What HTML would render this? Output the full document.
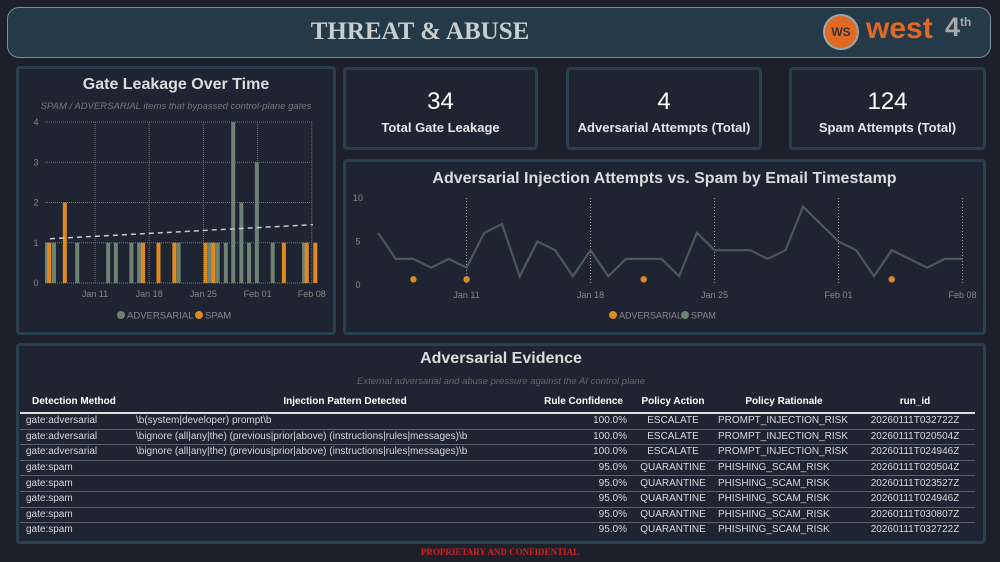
<!DOCTYPE html>
<html><head><meta charset="utf-8">
<style>
body{margin:0;width:1000px;height:562px;background:#1d1f2b;font-family:"Liberation Sans",sans-serif;overflow:hidden;position:relative;color:#e8e8e8}
.abs{position:absolute}
.panel{position:absolute;background:#1f2432;border:3px solid #28404f;border-radius:4px;box-sizing:border-box}
.kpi .v{position:absolute;width:100%;text-align:center;top:18px;font-size:24px;color:#fff}
.kpi .l{position:absolute;width:100%;text-align:center;top:50px;font-size:13px;font-weight:bold;color:#e6e6e6}
table{border-collapse:collapse;font-size:10px;color:#d8d8d8;table-layout:fixed}
td{height:14.6px;line-height:14px;padding:0 6px;border-bottom:1px solid #5a6470;white-space:nowrap;overflow:hidden}
</style></head><body>
<div class="abs" style="left:7px;top:7px;width:984px;height:51px;background:#243a48;border:1px solid #7d8d96;border-radius:12px;box-sizing:border-box"></div>
<div class="abs" style="left:0;top:18px;width:840px;text-align:center;font-family:'Liberation Serif',serif;font-weight:bold;font-size:25px;color:#c8cdd0">THREAT &amp; ABUSE</div>
<div class="abs" style="left:823px;top:14px;width:170px;height:40px">
<div class="abs" style="left:0;top:0;width:36px;height:36px;border-radius:50%;background:#e06a25;border:2px solid #9aa;box-sizing:border-box;font-size:12px;color:#333;text-align:center;line-height:32px;font-weight:bold">WS</div>
<div class="abs" style="left:43px;top:-2px;font-size:30px;color:#e06a25;font-weight:bold">west</div>
<div class="abs" style="left:122px;top:-2px;font-size:27px;color:#aaa;font-weight:bold">4<sup style="font-size:12px">th</sup></div>
</div>

<div class="panel" style="left:16px;top:66px;width:320px;height:269px">
<div class="abs" style="left:0;width:100%;top:7px;text-align:center;font-size:16px;font-weight:bold;color:#dcdcdc">Gate Leakage Over Time</div>
<div class="abs" style="left:0;width:100%;top:32px;text-align:center;font-size:9.5px;font-style:italic;color:#777">SPAM / ADVERSARIAL items that bypassed control-plane gates</div>
</div>
<svg class="abs" id="bar" style="left:0;top:0" width="340" height="340"></svg>

<div class="panel kpi" style="left:343px;top:67px;width:195px;height:83px"><div class="v">34</div><div class="l">Total Gate Leakage</div></div>
<div class="panel kpi" style="left:566px;top:67px;width:196px;height:83px"><div class="v">4</div><div class="l">Adversarial Attempts (Total)</div></div>
<div class="panel kpi" style="left:789px;top:67px;width:197px;height:83px"><div class="v">124</div><div class="l">Spam Attempts (Total)</div></div>

<div class="panel" style="left:343px;top:159px;width:643px;height:176px">
<div class="abs" style="left:0;width:100%;top:8px;text-align:center;font-size:16px;font-weight:bold;color:#dcdcdc">Adversarial Injection Attempts vs. Spam by Email Timestamp</div>
</div>
<svg class="abs" id="line" style="left:0;top:0" width="1000" height="340"></svg>

<div class="panel" style="left:16px;top:343px;width:970px;height:201px">
<div class="abs" style="left:0;width:100%;top:4px;text-align:center;font-size:16px;font-weight:bold;color:#dcdcdc">Adversarial Evidence</div>
<div class="abs" style="left:0;width:100%;top:30px;text-align:center;font-size:9.5px;font-style:italic;color:#666">External adversarial and abuse pressure against the AI control plane</div>
<table class="abs" style="left:1px;top:46px;width:955px">
<colgroup><col style="width:110px"><col style="width:430px"><col style="width:73px"><col style="width:80px"><col style="width:142px"><col style="width:120px"></colgroup>
<tr style="font-weight:bold;color:#fff;font-size:10px"><td style="border-bottom:2px solid #ddd;height:20px;padding-left:12px">Detection Method</td><td style="border-bottom:2px solid #ddd;text-align:center">Injection Pattern Detected</td><td style="border-bottom:2px solid #ddd;position:relative;overflow:visible"><span style="position:absolute;right:10px;top:3px">Rule Confidence</span></td><td style="border-bottom:2px solid #ddd;text-align:center">Policy Action</td><td style="border-bottom:2px solid #ddd;text-align:center">Policy Rationale</td><td style="border-bottom:2px solid #ddd;text-align:center">run_id</td></tr>
<tbody id="tb"></tbody>
</table>
</div>
<div class="abs" style="left:0;width:1000px;top:547px;text-align:center;font-family:'Liberation Serif',serif;font-weight:bold;font-size:9px;color:#d42020">PROPRIETARY AND CONFIDENTIAL</div>

<script>
// ---- table data
const rowsMethod=["gate:adversarial","gate:adversarial","gate:adversarial","gate:spam","gate:spam","gate:spam","gate:spam","gate:spam"];
const rowsPattern=["\\b(system|developer) prompt\\b","\\bignore (all|any|the) (previous|prior|above) (instructions|rules|messages)\\b","\\bignore (all|any|the) (previous|prior|above) (instructions|rules|messages)\\b","","","","",""];
const rowsConf=["100.0%","100.0%","100.0%","95.0%","95.0%","95.0%","95.0%","95.0%"];
const rowsAction=["ESCALATE","ESCALATE","ESCALATE","QUARANTINE","QUARANTINE","QUARANTINE","QUARANTINE","QUARANTINE"];
const rowsReason=["PROMPT_INJECTION_RISK","PROMPT_INJECTION_RISK","PROMPT_INJECTION_RISK","PHISHING_SCAM_RISK","PHISHING_SCAM_RISK","PHISHING_SCAM_RISK","PHISHING_SCAM_RISK","PHISHING_SCAM_RISK"];
const rowsRun=["20260111T032722Z","20260111T020504Z","20260111T024946Z","20260111T020504Z","20260111T023527Z","20260111T024946Z","20260111T030807Z","20260111T032722Z"];

// ---- bar chart data (day offsets from Jan 11)
const barTicks=["Jan 11","Jan 18","Jan 25","Feb 01","Feb 08"];
const advDays=[-6.2,-5.3,-2.3,1.7,2.7,4.7,5.7,10.8,14.85,15.85,16.9,17.85,18.9,19.9,20.9,22.95,27];
const advVals=[1,1,1,1,1,1,1,1,1,1,1,4,2,1,3,1,1];
const spamDays=[-5.9,-3.9,6.2,8.2,10.25,14.3,15.3,24.4,27.35,28.45];
const spamVals=[1,2,1,1,1,1,1,1,1,1];

// ---- line chart data (daily Jan 06 .. Feb 08)
const lineTicks=["Jan 11","Jan 18","Jan 25","Feb 01","Feb 08"];
const spamSeries=[6,3,3,2,3,2,6,7,1,5,4,1,4,1,3,3,3,1,6,4,4,4,3,4,9,7,5,4,1,4,3,2,3,3];
const advDaysLine=[2,5,15,29];
const advValsLine=[1,1,1,1];

const NS="http://www.w3.org/2000/svg";
function mk(svg,tag,attrs,text){const e=document.createElementNS(NS,tag);for(const k in attrs)e.setAttribute(k,attrs[k]);if(text!==undefined)e.textContent=text;svg.appendChild(e);return e;}

// table
const tb=document.getElementById('tb');
rowsMethod.forEach((m,i)=>{
 const tr=document.createElement('tr');
 
 
 tr.innerHTML=`<td style="padding-left:6px">${m}</td><td style="padding-left:6px"></td><td style="text-align:right;padding-right:6px">${rowsConf[i]}</td><td style="text-align:center">${rowsAction[i]}</td><td style="padding-left:5px">${rowsReason[i]}</td><td style="text-align:center">${rowsRun[i]}</td>`;
 tr.children[1].textContent=rowsPattern[i];
 if(i==rowsMethod.length-1)[...tr.children].forEach(c=>c.style.borderBottom='none');
 tb.appendChild(tr);
});

// bar chart
(function(){
 const s=document.getElementById('bar');
 const x0=95,pxDay=54.2/7,yb=283,yt=122,ymax=4;
 const X=d=>x0+d*pxDay, Y=v=>yb-(yb-yt)*v/ymax;
 for(let v=0;v<=4;v++){
  const g=mk(s,'line',{x1:45,x2:313,y1:Y(v),y2:Y(v),stroke:'#777','stroke-dasharray':'1,1','stroke-width':1});
  
  
  const t=mk(s,'text',{x:36,y:Y(v)+3,fill:'#888','font-size':9,'text-anchor':'middle'},v);
  
  
 }
 barTicks.forEach((lbl,i)=>{
  const x=X(i*7);
  const g=mk(s,'line',{x1:x,x2:x,y1:yt,y2:yb,stroke:'#777','stroke-dasharray':'1,1'});
  
  
  const t=mk(s,'text',{x:x,y:297,fill:'#888','font-size':9,'text-anchor':'middle'},lbl);
  
  
 });
 advDays.forEach((d,i)=>{
  const r=mk(s,'rect',{x:X(d)-2,y:Y(advVals[i]),width:4,height:yb-Y(advVals[i]),fill:'#6e8272'});
  
  
 });
 spamDays.forEach((d,i)=>{
  const r=mk(s,'rect',{x:X(d)-2,y:Y(spamVals[i]),width:4,height:yb-Y(spamVals[i]),fill:'#e08a1e'});
  
  
 });
 const tl=mk(s,'line',{x1:50,y1:Y(1.1),x2:313,y2:Y(1.45),stroke:'#c8c8c8','stroke-width':1.5,'stroke-dasharray':'5,4'});
 
 
 const l1=mk(s,'circle',{cx:121,cy:315,r:4,fill:'#6e8272'});
 
 
 const lt1=mk(s,'text',{x:127,y:318.5,fill:'#888','font-size':9.5},'ADVERSARIAL');
 
 
 const l2=mk(s,'circle',{cx:199,cy:315,r:4,fill:'#e08a1e'});
 
 
 const lt2=mk(s,'text',{x:205,y:318.5,fill:'#888','font-size':9.5},'SPAM');
 
 
})();

// line chart
(function(){
 const s=document.getElementById('line');
 const xStart=378,pxDay=124/7,yb=285,yt=198,ymax=10;
 const X=i=>xStart+i*pxDay, Y=v=>yb-(yb-yt)*v/ymax;
 [0,5,10].forEach(v=>{
  const t=mk(s,'text',{x:358,y:Y(v)+3,fill:'#888','font-size':9,'text-anchor':'middle'},v);
  
  
 });
 lineTicks.forEach((lbl,i)=>{
  const x=X(5+i*7);
  const g=mk(s,'line',{x1:x,x2:x,y1:yt,y2:yb,stroke:'#aaa','stroke-dasharray':'1,2'});
  
  
  const t=mk(s,'text',{x:x,y:298,fill:'#888','font-size':9,'text-anchor':'middle'},lbl);
  
  
 });
 const p=mk(s,'polyline',{points:spamSeries.map((v,i)=>X(i)+','+Y(v)).join(' '),fill:'none',stroke:'#4a5a58','stroke-width':2.2});
 
 
 advDaysLine.forEach((d,i)=>{
  const c=mk(s,'circle',{cx:X(d),cy:Y(advValsLine[i])+3,r:3.2,fill:'#e08a1e'});
  
  
 });
 const l1=mk(s,'circle',{cx:613,cy:315,r:4,fill:'#e08a1e'});
 
 
 const lt1=mk(s,'text',{x:619,y:318.5,fill:'#888','font-size':9},'ADVERSARIAL');
 
 
 const l2=mk(s,'circle',{cx:685,cy:315,r:4,fill:'#6e8272'});
 
 
 const lt2=mk(s,'text',{x:691,y:318.5,fill:'#888','font-size':9},'SPAM');
 
 
})();
</script>
</body></html>
